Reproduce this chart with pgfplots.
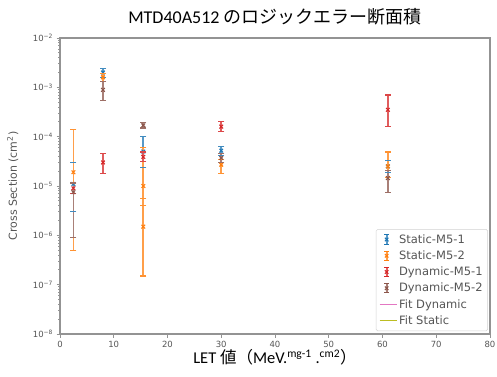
\documentclass[border=0pt]{standalone}
\usepackage{fontspec}
\setmainfont{DejaVu Sans}
\newfontfamily\carlito{Carlito}
\newfontfamily\cjk{Noto Sans CJK JP}
\usepackage{pgfplots}
\pgfplotsset{compat=1.18}
\definecolor{tblue}{HTML}{1F77B4}
\definecolor{torange}{HTML}{FF7F0E}
\definecolor{tred}{HTML}{D62728}
\definecolor{tbrown}{HTML}{8C564B}
\definecolor{tpink}{HTML}{E377C2}
\definecolor{tolive}{HTML}{BCBD22}
\definecolor{txt}{HTML}{555555}
\pgfplotsset{
  bars/.style={draw=#1!75, line width=1.8pt, mark=-, mark size=3pt,
    mark options={draw=#1!85, line width=1.1pt, solid}, unbounded coords=jump, forget plot},
  pts/.style={only marks, mark=x, mark size=2.6pt, mark options={draw=#1, line width=1.1pt}, draw=#1, color=#1,
    legend image code/.code={
      \draw[#1!75, line width=1.8pt] (0.25cm,-0.16cm) -- (0.25cm,0.16cm);
      \draw[#1, line width=1pt] (0.17cm,-0.16cm) -- (0.33cm,-0.16cm) (0.17cm,0.16cm) -- (0.33cm,0.16cm);
      \path[#1] plot[mark=x, mark size=2.5pt, mark options={line width=1.1pt}] coordinates {(0.25cm,0cm)};}}
}
\begin{document}
\begin{tikzpicture}
\path[use as bounding box] (-60pt,-42pt) rectangle (437pt,334pt);
\begin{axis}[
  scale only axis, width=430pt, height=296pt,
  xmin=0, xmax=80, ymin=1e-8, ymax=1e-2, ymode=log,
  xtick={0,10,...,80},
  ytick={1e-8,1e-7,1e-6,1e-5,1e-4,1e-3,1e-2},
  yticklabels={10\textsuperscript{−8},10\textsuperscript{−7},10\textsuperscript{−6},10\textsuperscript{−5},10\textsuperscript{−4},10\textsuperscript{−3},10\textsuperscript{−2}},
  /pgf/number format/assume math mode=true,
  tick label style={font=\fontsize{8.5}{10}\selectfont, color=txt},
  axis line style={color=gray!85, line width=1.4pt},
  tick style={color=gray!85, line width=0.9pt},
  tick align=outside, xtick pos=bottom, ytick pos=left,
  major tick length=3.5pt, minor tick length=2pt,
  ylabel={Cross Section (cm\textsuperscript{2})},
  ylabel style={font=\fontsize{11}{12}\selectfont, color=txt, at={(axis description cs:-0.11,0.5)}, anchor=center},
  legend style={font=\fontsize{11.5}{13}\selectfont, text=txt, draw=gray!35, fill=white, rounded corners=1.5pt, row sep=2pt, inner sep=3pt, at={(0.995,0.01)}, anchor=south east},
  legend cell align=left,
  clip=false,
]
% Static-M5-1 (blue)
\addplot[bars=tblue] coordinates {
  (2.5,3e-6) (2.5,3e-5) (2.5,nan)
  (8,1.6e-3) (8,2.4e-3) (8,nan)
  (15.5,2.4e-5) (15.5,1e-4) (15.5,nan)
  (30,4.2e-5) (30,6.2e-5) (30,nan)
  (61,1.9e-5) (61,3.3e-5)
};
\addplot[pts=tblue] coordinates {(2.5,1.1e-5) (8,2.0e-3) (15.5,5e-5) (30,5.2e-5) (61,2.5e-5)};
\addlegendentry{Static-M5-1}
% Static-M5-2 (orange)
\addplot[bars=torange] coordinates {
  (2.5,5e-7) (2.5,1.39e-4) (2.5,nan)
  (8,1.3e-3) (8,1.9e-3) (8,nan)
  (15.5,4e-6) (15.5,6e-5) (15.5,nan)
  (15.5,1.5e-7) (15.5,5.5e-6) (15.5,nan)
  (30,1.8e-5) (30,3.5e-5) (30,nan)
  (61,1.5e-5) (61,4.9e-5)
};
\addplot[pts=torange] coordinates {(2.5,1.9e-5) (8,1.6e-3) (15.5,1e-5) (15.5,1.5e-6) (30,2.7e-5) (61,2.5e-5)};
\addlegendentry{Static-M5-2}
% Dynamic-M5-1 (red)
\addplot[bars=tred] coordinates {
  (2.5,7e-6) (2.5,1.2e-5) (2.5,nan)
  (8,1.8e-5) (8,4.5e-5) (8,nan)
  (15.5,3.1e-5) (15.5,4.9e-5) (15.5,nan)
  (30,1.25e-4) (30,2e-4) (30,nan)
  (61,1.6e-4) (61,7e-4)
};
\addplot[pts=tred] coordinates {(2.5,9e-6) (8,3e-5) (15.5,3.9e-5) (30,1.6e-4) (61,3.5e-4)};
\addlegendentry{Dynamic-M5-1}
% Dynamic-M5-2 (brown)
\addplot[bars=tbrown] coordinates {
  (2.5,9e-7) (2.5,1.15e-5) (2.5,nan)
  (8,5.5e-4) (8,1.29e-3) (8,nan)
  (15.5,1.5e-4) (15.5,1.95e-4) (15.5,nan)
  (30,3e-5) (30,4.5e-5) (30,nan)
  (61,7.5e-6) (61,2.05e-5)
};
\addplot[pts=tbrown] coordinates {(2.5,7.5e-6) (8,8.9e-4) (15.5,1.7e-4) (30,3.7e-5) (61,1.45e-5)};
\addlegendentry{Dynamic-M5-2}
\addlegendimage{tpink, line width=0.9pt, mark=none}
\addlegendentry{Fit Dynamic}
\addlegendimage{tolive, line width=0.9pt, mark=none}
\addlegendentry{Fit Static}
\node[font=\carlito\fontsize{18}{20}\selectfont, anchor=base] at (axis description cs:0.5,1.05) {MTD40A512 {\cjk のロジックエラー断面積}};
\node[font=\carlito\fontsize{16.5}{18}\selectfont, anchor=base] at (axis description cs:0.5,-0.1) {LET {\cjk 値（}MeV.\textsuperscript{mg-1} .\textsuperscript{cm2}{\cjk ）}};
\end{axis}
\end{tikzpicture}
\end{document}
